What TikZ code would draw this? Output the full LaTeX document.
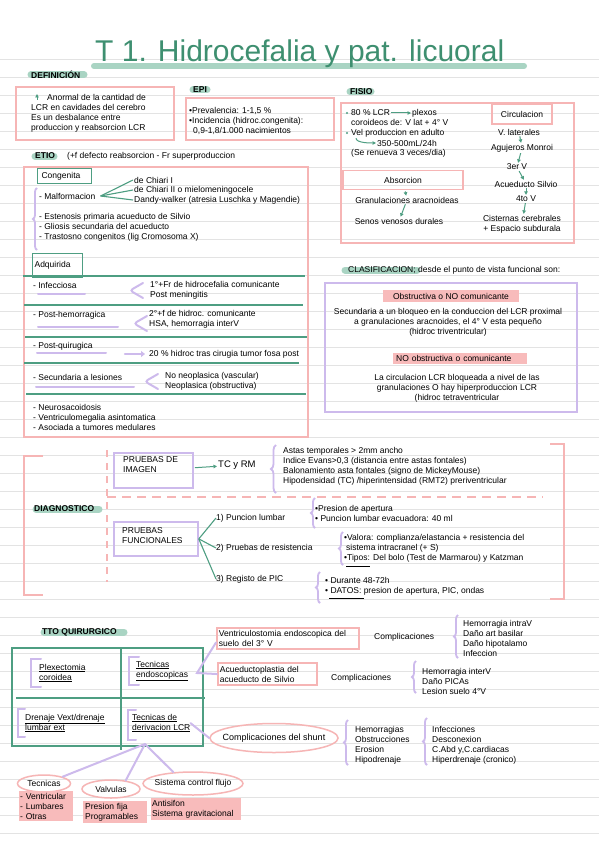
\documentclass[tikz,border=0pt]{standalone}
\usepackage{fontspec}
\setmainfont{Liberation Sans}
\usetikzlibrary{arrows.meta,shapes.geometric,decorations.pathreplacing}
\definecolor{hgreen}{HTML}{4E9E82}
\definecolor{tgreen}{HTML}{3E8F70}
\definecolor{pillgreen}{HTML}{A9D4C3}
\definecolor{pinkln}{HTML}{F6B5B5}
\definecolor{pinkfill}{HTML}{F8BBBB}
\definecolor{lilac}{HTML}{CDBAEC}
\definecolor{ruleg}{HTML}{E3E3E3}

\begin{document}
\begin{tikzpicture}[x=1pt,y=-1pt,font=\fontsize{8.5}{10}\selectfont,
  txt/.style={inner sep=0pt,anchor=north west,align=left},
  ln/.style={inner sep=0pt,anchor=west},
  ctr/.style={inner sep=0pt,align=center},
  sect/.style={inner sep=0pt,anchor=west,font=\fontsize{8.5}{10}\selectfont\bfseries},
  pinkbox/.style={draw=pinkln,line width=1.8pt},
  lilacbox/.style={draw=lilac,line width=1.8pt},
  greenbox/.style={draw=hgreen,line width=1.2pt},
  hilite/.style={fill=pinkfill,inner sep=2pt},
  ring/.style={ellipse,draw=pinkln,line width=1.5pt,inner xsep=-6pt,inner ysep=0pt},
  garrow/.style={hgreen,line width=1pt,-{Triangle[length=3.5pt,width=3.5pt]},shorten <=1pt,shorten >=1pt},
  gline/.style={hgreen,line width=1.1pt},
  lline/.style={lilac,line width=2pt,line cap=round},
  lbrace/.style={lilac,line width=1.8pt,decorate,decoration={brace,amplitude=4pt}},
  pillbar/.style={pillgreen,line width=7pt,line cap=round}]
  \fill[white] (0,0) rectangle (599,848);
  \useasboundingbox (0,0) rectangle (599,848);
  \foreach \k in {0,...,43} {
    \draw[ruleg,line width=0.8pt] (0,59+18*\k) -- (599,59+18*\k);
  }

  \draw[pillbar,line width=6pt] (94,66) -- (524,66);
  \node[inner sep=0pt,anchor=base west,text=tgreen,font=\fontsize{30}{30}\selectfont] (title) at (95,62) {T 1. Hidrocefalia y pat. licuoral};

  \draw[pillbar] (31,75) -- (84,75);
  \node[sect] (defl) at (31,75) {DEFINICIÓN};
  \draw[pinkbox] (16,87) rectangle (174,140);
  \coordinate (upfoot) at (37,101);
  \draw[garrow] (upfoot) -- ++(0,-8);
  \node[txt] (defa) at (47,93.8) {Anormal de la cantidad de};
  \node[txt] (defb) at (31,103.8) {LCR en cavidades del cerebro\\Es un desbalance entre\\produccion y reabsorcion LCR};

  \draw[pillbar] (193,90) -- (207,90);
  \node[sect] (epil) at (193,90) {EPI};
  \draw[pinkbox] (186,98) rectangle (334,140);
  \node[txt] (epit) at (189,106.8) {•Prevalencia: 1-1,5 \%\\•Incidencia (hidroc.congenita):\\\hspace*{4pt}0,9-1,8/1.000 nacimientos};

  \draw[pillbar] (350,92) -- (371,92);
  \node[sect] (fisl) at (350,92) {FISIO};
  \draw[pinkbox] (341,103) rectangle (574,243);
  \fill[hgreen] (347,113) circle (1.2pt);
  \fill[hgreen] (347,133) circle (1.2pt);
  \node[ln] (lcr) at (351,113) {80 \% LCR};
  \node[ln] (plex) at (412,113) {plexos};
  \draw[garrow] (lcr) -- (plex);
  \node[ln] (coro) at (351,122) {coroideos de: V lat + 4° V};
  \node[ln] (vel) at (351,133) {Vel produccion en adulto};
  \node[ln] (rate) at (377,143) {350-500mL/24h};
  \draw[garrow] ([xshift=5pt]vel.south west) .. controls +(0,6) and +(-6,0) .. (rate.west);
  \node[ln] (renu) at (351,153) {(Se renueva 3 veces/dia)};

  \node[pinkbox,minimum width=60pt,minimum height=20pt,inner sep=0pt] (circ) at (522,114) {Circulacion};
  \node[ctr] (vlat) at (519,132) {V. laterales};
  \node[ctr] (monr) at (522,148) {Agujeros Monroi};
  \node[ctr] (terc) at (517,167) {3er V};
  \node[ctr] (acue) at (526,184) {Acueducto Silvio};
  \node[ctr] (cuar) at (526,199) {4to V};
  \node[ctr] (cist) at (522,224) {Cisternas cerebrales\\+ Espacio subdurala};
  \foreach \a/\b in {vlat/monr,monr/terc,terc/acue,acue/cuar,cuar/cist}
    \draw[garrow] (\a) -- (\b);

  \node[pinkbox,minimum width=120pt,minimum height=19pt,inner sep=0pt] (abso) at (403,180) {Absorcion};
  \node[ctr] (gran) at (407,200) {Granulaciones aracnoideas};
  \node[ctr] (seno) at (399,221) {Senos venosos durales};
  \draw[garrow] (abso) -- (gran);
  \draw[garrow] (gran) -- (seno);

  \draw[pillbar] (35,156) -- (54,156);
  \node[sect] (etil) at (35,156) {ETIO};
  \node[ln] (etid) at (67,156) {(+f defecto reabsorcion - Fr superproduccion};
  \draw[pinkbox] (24,167) rectangle (308,437);
  \node[greenbox,anchor=north west,inner xsep=4pt,inner ysep=0pt,text width=46pt,minimum height=15pt] (cong) at (37,168) {Congenita};
  \node[ln] (malf) at (39,196) {- Malformacion};
  \node[ln] (chi1) at (134,180) {de Chiari I};
  \node[ln] (chi2) at (134,190) {de Chiari II o mielomeningocele};
  \node[ln] (dandy) at (134,200) {Dandy-walker (atresia Luschka y Magendie)};
  \foreach \t in {chi1,chi2,dandy}
    \draw[gline] ([xshift=5pt]malf.east) -- ([xshift=-1pt]\t.west);
  \draw[lbrace] (37,250) -- (37,188);
  \node[txt] (este) at (39,212.8) {- Estenosis primaria acueducto de Silvio\\- Gliosis secundaria del acueducto\\- Trastosno congenitos (lig Cromosoma X)};
  \node[greenbox,anchor=north west,inner xsep=2pt,inner ysep=0pt,text width=46pt,minimum height=24pt] (adq) at (32,253) {Adquirida};
  \foreach \y/\a/\b in {276/23/305,305/24/303,337/25/307,363/24/299,394/26/306}
    \draw[gline] (\a,\y) -- (\b,\y);

  \node[ln] (infe) at (33,285) {- Infecciosa};
  \node[txt] (infd) at (150,280.8) {1°+Fr de hidrocefalia comunicante\\Post meningitis};
  \node[ln] (hemo) at (33,315) {- Post-hemorragica};
  \node[txt] (hemd) at (149,309.8) {2°+f de hidroc. comunicante\\HSA, hemorragia interV};
  \node[ln] (quir) at (33,346) {- Post-quirugica};
  \node[ln] (quid) at (149,354) {20 \% hidroc tras cirugia tumor fosa post};
  \node[ln] (secu) at (33,377) {- Secundaria a lesiones};
  \node[txt] (secd) at (165,371.8) {No neoplasica (vascular)\\Neoplasica (obstructiva)};
  \node[txt] (otro) at (33,403.8) {- Neurosacoidosis\\- Ventriculomegalia asintomatica\\- Asociada a tumores medulares};
  \foreach \a/\b/\y in {38/85/294,38/118/327,37/106/353,36/134/387}
    \draw[lline] (\a,\y) -- (\b,\y);
  \foreach \x/\y in {143/290.5,147/323.5,158/381.5}
    \draw[lline,rounded corners=3pt] (\x,\y-7.5) -- (\x-13,\y) -- (\x,\y+7.5);
  \draw[lline,line width=2.2pt,-{Triangle[length=4pt,width=6pt]}] ([xshift=-24pt]quid.west) -- ([xshift=-4pt]quid.west);

  \draw[pillbar] (345,270) -- (417,270);
  \node[ln] (clas) at (348,270) {CLASIFICACION; desde el punto de vista funcional son:};
  \draw[lilacbox] (325,283) rectangle (577,412);
  \node[hilite,minimum width=136pt,minimum height=12pt,inner sep=0pt] (obst) at (451,296) {Obstructiva o NO comunicante};
  \node[ctr] (obsd) at (448,322) {Secundaria a un bloqueo en la conduccion del LCR proximal\\a granulaciones aracnoides, el 4° V esta pequeño\\(hidroc triventricular)};
  \node[hilite,anchor=west,text width=128pt,inner xsep=3pt,inner ysep=0pt,minimum height=11pt] (nobs) at (393,358) {NO obstructiva o comunicante};
  \node[ctr] (nobd) at (457,388) {La circulacion LCR bloqueada a nivel de las\\granulaciones O hay hiperproduccion LCR\\(hidroc tetraventricular};

  \draw[pinkbox] (43,456) -- (24,456) -- (24,595) -- (43,595);
  \draw[pinkbox] (550,444) -- (564,444) -- (564,599) -- (550,599);
  \draw[pinkln,line width=1.6pt,dash pattern=on 7pt off 6pt] (107,450) -- (107,582);
  \draw[pinkln,line width=1.6pt,dash pattern=on 9pt off 6pt] (107,497) -- (543,497);
  \node[lilacbox,minimum width=79pt,minimum height=35pt,anchor=north west] (img) at (113,452) {};
  \node[txt] (imgt) at (123,456.8) {PRUEBAS DE\\IMAGEN};
  \node[ln,font=\fontsize{9.5}{10}\selectfont] (tcrm) at (218,465) {TC y RM};
  \draw[garrow] (img) -- (tcrm);
  \draw[lbrace,decoration={brace,amplitude=5pt}] (276,493) -- (276,445);
  \node[txt] (astas) at (283,446.8) {Astas temporales > 2mm ancho\\Indice Evans>0,3 (distancia entre astas fontales)\\Balonamiento asta fontales (signo de MickeyMouse)\\Hipodensidad (TC) /hiperintensidad (RMT2) preriventricular};

  \draw[pillbar] (36,509) -- (99,509);
  \node[sect] (diag) at (34,509) {DIAGNOSTICO};
  \node[lilacbox,minimum width=84pt,minimum height=34pt,anchor=north west] (func) at (113,521) {};
  \node[txt] (funct) at (122,527.8) {PRUEBAS\\FUNCIONALES};
  \node[ln] (pl) at (216,518) {1) Puncion lumbar};
  \node[ln] (pr) at (216,548) {2) Pruebas de resistencia};
  \node[ln] (pic) at (216,579) {3) Registo de PIC};
  \foreach \t in {pl,pr,pic}
    \draw[gline] (func.east) -- (\t.west);
  \draw[lbrace] (315,528) -- (315,498);
  \node[txt] (plt) at (315,504.8) {•Presion de apertura\\• Puncion lumbar evacuadora: 40 ml};
  \draw[lbrace] (343,565) -- (343,532);
  \node[txt] (prt) at (344,533.8) {•Valora: complianza/elastancia + resistencia del\\\hspace*{2pt}sistema intracranel (+ S)\\•Tipos: Del bolo (Test de Marmarou) y Katzman};
  \draw[black,line width=0.9pt] (346,566) -- (370,566);
  \draw[lbrace] (320,603) -- (320,572);
  \node[txt] (pict) at (325,576.8) {• Durante 48-72h\\• DATOS: presion de apertura, PIC, ondas};
  \draw[black,line width=0.9pt] (329,598) -- (364,598);

  \draw[pillbar] (44,632) -- (124,632);
  \node[sect] (tto) at (42,632) {TTO QUIRURGICO};
  \draw[gline] (12,648) rectangle (203,746);
  \draw[gline] (121,648) -- (121,750);
  \draw[gline] (16,698) -- (205,698);
  \foreach \x/\a/\b/\w in {31/659/687/10,129/657/685/10,18/709/737/7,128/710/740/8}
    \draw[lline] (\x+\w,\a) -- (\x,\a) -- (\x,\b) -- (\x+\w,\b);
  \node[txt] (plx) at (39,663.8) {\underline{Plexectomia}\\\underline{coroidea}};
  \node[txt] (endo) at (136,660.8) {\underline{Tecnicas}\\\underline{endoscopicas}};
  \node[txt] (dren) at (25,713.8) {\underline{Drenaje Vext/drenaje}\\\underline{lumbar ext}};
  \node[txt] (deri) at (132,713.8) {\underline{Tecnicas de}\\\underline{derivacion LCR}};

  \node[pinkbox,txt,inner xsep=2pt,inner ysep=2.5pt,text width=138pt] (vent) at (216,627) {Ventriculostomia endoscopica del\\suelo del 3° V};
  \node[pinkbox,txt,inner xsep=2pt,inner ysep=3pt,text width=95pt] (acup) at (217,662) {Acueductoplastia del\\acueducto de Silvio};
  \coordinate (endoj) at (197,673);
  \draw[lline] ([yshift=-4pt]vent.west) -- (endoj) -- (acup.west);
  \node[ln] (comp1) at (374,637) {Complicaciones};
  \draw[lbrace] (458,658) -- (458,615);
  \node[txt] (comp1l) at (463,619.8) {Hemorragia intraV\\Daño art basilar\\Daño hipotalamo\\Infeccion};
  \node[ln] (comp2) at (331,678) {Complicaciones};
  \draw[lbrace] (416,693) -- (416,661);
  \node[txt] (comp2l) at (422,667.8) {Hemorragia interV\\Daño PICAs\\Lesion suelo 4°V};

  \node[ring,minimum width=128pt,minimum height=29pt,font=\fontsize{9}{10}\selectfont] (shunt) at (274,738) {Complicaciones del shunt};
  \draw[lline] (deri.east) -- (shunt.west);
  \draw[lbrace] (348,765) -- (348,720);
  \node[txt] (sh1) at (355,725.8) {Hemorragias\\Obstrucciones\\Erosion\\Hipodrenaje};
  \draw[lbrace] (427,765) -- (427,718);
  \node[txt] (sh2) at (432,725.8) {Infecciones\\Desconexion\\C.Abd y,C.cardiacas\\Hiperdrenaje (cronico)};

  \coordinate (derj) at (145,744);
  \node[ring,minimum width=53pt,minimum height=17pt] (tec) at (44,783.5) {Tecnicas};
  \node[ring,minimum width=58pt,minimum height=18pt] (valv) at (111,789) {Valvulas};
  \node[ring,minimum width=100pt,minimum height=23pt] (sist) at (193,783.5) {Sistema control flujo};
  \draw[lline] (derj) -- (tec.20);
  \draw[lline] (derj) -- (valv.30);
  \draw[lline] (derj) -- (sist.150);
  \node[txt,hilite,inner xsep=1pt,inner ysep=2pt,text width=52pt] (tecl) at (19,791) {- Ventricular\\- Lumbares\\- Otras};
  \node[txt,hilite,inner xsep=2pt,inner ysep=2pt,text width=60pt] (valvl) at (83,801) {Presion fija\\Programables};
  \node[txt,hilite,inner xsep=1pt,inner ysep=2pt,text width=88pt] (sistl) at (151,798) {Antisifon\\Sistema gravitacional};
\end{tikzpicture}
\end{document}
